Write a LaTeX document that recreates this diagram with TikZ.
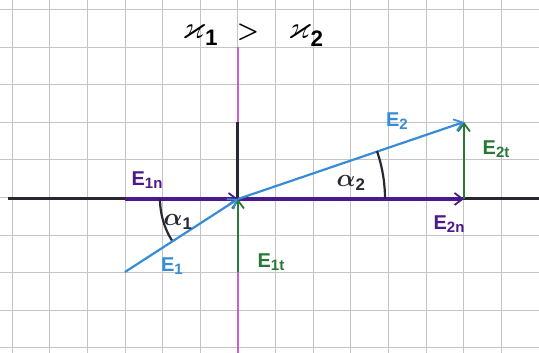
\documentclass[tikz,border=0pt]{standalone}
\usepackage{amsmath,amssymb}
\usepackage{fontspec}
\setmainfont{Liberation Sans}
\usetikzlibrary{arrows.meta}
\definecolor{gridc}{RGB}{195,195,200}
\definecolor{bluec}{RGB}{55,140,215}
\definecolor{purc}{RGB}{75,25,140}
\definecolor{greenc}{RGB}{40,120,55}
\definecolor{pinkc}{RGB}{205,95,205}
\definecolor{axisc}{RGB}{40,40,50}
\tikzset{
  tip/.style={-{Straight Barb[length=8pt,width=12pt,line width=1.8pt]}},
  lab/.style={font=\fontsize{20}{22}\selectfont\bfseries, inner sep=0pt},
}
\newcommand{\Elab}[1]{E{\fontsize{15}{15}\selectfont\raisebox{-3pt}{#1}}}
\begin{document}
\begin{tikzpicture}[x=1pt,y=1pt]
\useasboundingbox (-238,-154) rectangle (301,199);
\fill[white] (-238,-154) rectangle (301,199);
% grid
\foreach \k in {-6,...,8} \draw[gridc, line width=1pt] (\k*37.64,-154) -- (\k*37.64,199);
\foreach \k in {-4,...,5} \draw[gridc, line width=1pt] (-238,1.5+\k*37.56) -- (301,1.5+\k*37.56);
% coordinates
\coordinate (O) at (0,0);
\coordinate (A1) at (-113,-73);
\coordinate (D) at (-113,0);
\coordinate (F) at (0,-73);
\coordinate (B) at (226,77);
\coordinate (C) at (226,0);
\coordinate (T) at (0,77);
\coordinate (PT) at (0,152);
\coordinate (PB) at (0,-154);
\coordinate (HL) at (-230,0);
\coordinate (HR) at (301,0);
% axes
\draw[pinkc, line width=2pt] (PT) -- (PB);
\draw[axisc, line width=3pt] (HL) -- (HR);
\draw[axisc, line width=3pt] (O) -- (T);
% vectors
\draw[purc, line width=3.5pt, tip] (D) -- (O);
\draw[purc, line width=3.5pt, tip] (O) -- (C);
\draw[greenc, line width=2pt, tip] (F) -- (O);
\draw[greenc, line width=2pt, tip] (C) -- (B);
\draw[bluec, line width=2.2pt, tip] (A1) -- (O);
\draw[bluec, line width=2.2pt, tip] (O) -- (B);
% angle arcs
\draw[axisc, line width=2.2pt] (O) ++(180:78) arc[start angle=180, end angle=212, radius=78];
\draw[axisc, line width=2.2pt] (O) ++(0:147) arc[start angle=0, end angle=19, radius=147];
% labels
\node[lab, purc] (l1n) at (-91,19) {\Elab{1n}};
\node[lab, bluec] (l1) at (-66,-67) {\Elab{1}};
\node[lab, greenc] (l1t) at (33,-63) {\Elab{1t}};
\node[lab, bluec] (l2) at (159,78) {\Elab{2}};
\node[lab, greenc] (l2t) at (258,50) {\Elab{2t}};
\node[lab, purc] (l2n) at (211,-25) {\Elab{2n}};
\node[axisc, inner sep=0pt, font=\fontsize{24}{26}\selectfont] (a1) at (-60,-23) {$\boldsymbol{\alpha}_{\mathbf 1}$};
\node[axisc, inner sep=0pt, font=\fontsize{24}{26}\selectfont] (a2) at (113,16) {$\boldsymbol{\alpha}_{\mathbf 2}$};
\node[black, inner sep=0pt, anchor=base, font=\fontsize{32}{34}\selectfont] (title) at (15,160) {$\boldsymbol{\varkappa}_{\mathbf 1}\hspace{12pt}\boldsymbol{>}\hspace{22pt}\boldsymbol{\varkappa}_{\mathbf 2}$};
\end{tikzpicture}
\end{document}
